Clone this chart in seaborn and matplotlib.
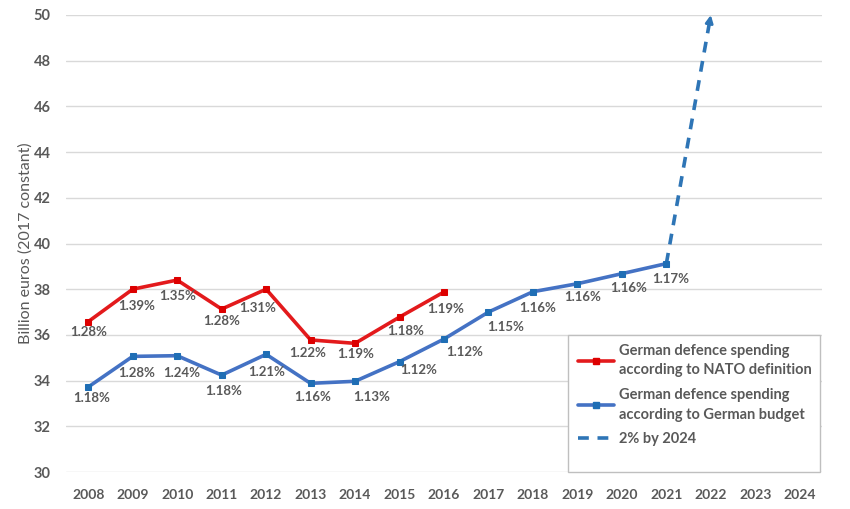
import matplotlib
matplotlib.use("Agg")
import matplotlib.pyplot as plt
import seaborn as sns
import pandas as pd
from matplotlib.lines import Line2D
from matplotlib.patches import Rectangle

# ---- data ----
years_nato = [2008, 2009, 2010, 2011, 2012, 2013, 2014, 2015, 2016]
nato_values = [36.58, 38.0, 38.4, 37.13, 38.0, 35.78, 35.63, 36.78, 37.88]
nato_pct = ["1.28%", "1.39%", "1.35%", "1.28%", "1.31%", "1.22%", "1.19%", "1.18%", "1.19%"]

years_budget = [2008, 2009, 2010, 2011, 2012, 2013, 2014, 2015, 2016,
                2017, 2018, 2019, 2020, 2021]
budget_values = [33.72, 35.06, 35.09, 34.24, 35.15, 33.88, 33.97, 34.83, 35.82,
                 37.0, 37.89, 38.24, 38.68, 39.12]
budget_pct = ["1.18%", "1.28%", "1.24%", "1.18%", "1.21%", "1.16%", "1.13%", "1.12%",
              "1.12%", "1.15%", "1.16%", "1.16%", "1.16%", "1.17%"]

years_target = [2021, 2022]
target_values = [39.12, 50.0]

x_ticks = list(range(2008, 2025))
y_ticks = list(range(30, 51, 2))

label_nato = "German defence spending\naccording to NATO definition"
label_budget = "German defence spending\naccording to German budget"
label_target = "2% by 2024"
y_label = "Billion euros (2017 constant)"

# label offsets in pixels (dx, dy) — placement styling only
nato_off = [(0, -10), (4, -17), (0, -16), (0, -12), (-8, -19), (-3, -13), (1, -11), (6, -14), (2, -17)]
budget_off = [(3, -11), (4, -17), (5, -17), (2, -16), (1, -18), (2, -14), (17, -16), (19, -8),
              (21, -13), (17, -15), (5, -16), (5, -13), (7, -14), (4, -15)]

# ---- styling ----
sns.set_theme(style="white")
plt.rcParams["font.family"] = ["Lato", "DejaVu Sans"]
GRAY = "#595959"
RED_LINE = "#E31A1C"
RED_MARK = "#DD0000"
BLUE_LINE = "#4472C4"
BLUE_MARK = "#1F6EB5"
DASH_BLUE = "#2E75B6"

fig = plt.figure(figsize=(8.5, 5.09), dpi=100)
ax = fig.add_axes([66 / 850, 1 - 472 / 509, (822 - 66) / 850, (472 - 15) / 509])

df_nato = pd.DataFrame({"year": years_nato, "value": nato_values})
df_budget = pd.DataFrame({"year": years_budget, "value": budget_values})
df_target = pd.DataFrame({"year": years_target, "value": target_values})

sns.lineplot(data=df_nato, x="year", y="value", ax=ax, color=RED_LINE, lw=2.6,
             marker="s", markersize=5, markerfacecolor=RED_MARK, markeredgecolor=RED_MARK,
             zorder=4)
sns.lineplot(data=df_budget, x="year", y="value", ax=ax, color=BLUE_LINE, lw=2.6,
             marker="s", markersize=5, markerfacecolor=BLUE_MARK, markeredgecolor=BLUE_MARK,
             zorder=4)
sns.lineplot(data=df_target, x="year", y="value", ax=ax, color=DASH_BLUE, lw=2.6,
             linestyle=(0, (3, 2.4)), zorder=3)
for l in ax.lines:
    l.set_clip_on(False)

# arrowhead at the end of the dashed target line
x0, y0 = years_target[-2], target_values[-2]
x1, y1 = years_target[-1], target_values[-1]
t = 0.96
ax.annotate("", xy=(x1, y1), xytext=(x0 + (x1 - x0) * t, y0 + (y1 - y0) * t),
            arrowprops=dict(arrowstyle="-|>", color=DASH_BLUE, lw=2.0,
                            mutation_scale=11, shrinkA=0, shrinkB=0),
            annotation_clip=False, zorder=5)

# data labels
for x, y, s, (dx, dy) in zip(years_nato, nato_values, nato_pct, nato_off):
    ax.annotate(s, (x, y), xytext=(dx, dy), textcoords="offset pixels",
                ha="center", va="center", fontsize=9.5, fontweight="bold", color=GRAY, zorder=6)
for x, y, s, (dx, dy) in zip(years_budget, budget_values, budget_pct, budget_off):
    ax.annotate(s, (x, y), xytext=(dx, dy), textcoords="offset pixels",
                ha="center", va="center", fontsize=9.5, fontweight="bold", color=GRAY, zorder=6)

# axes
ax.set_xlim(2007.5, 2024.5)
ax.set_ylim(30, 50)
ax.set_xticks(x_ticks)
ax.set_yticks(y_ticks)
ax.set_xticklabels([str(v) for v in x_ticks], fontsize=10, fontweight="bold", color=GRAY)
ax.set_yticklabels([str(v) for v in y_ticks], fontsize=10.5, fontweight="bold", color=GRAY)
ax.tick_params(axis="both", length=0)
ax.tick_params(axis="x", pad=12)
ax.tick_params(axis="y", pad=11)
ax.grid(axis="y", color="#D9D9D9", lw=1.0)
ax.set_axisbelow(True)
for sp in ax.spines.values():
    sp.set_visible(False)
ax.set_xlabel("")
ax.set_ylabel(y_label, fontsize=11.5, color=GRAY, labelpad=1)

# legend frame drawn as a rectangle, legend itself frameless
ax.add_patch(Rectangle((0.664, 0.0), 0.333, 0.30, transform=ax.transAxes,
                       facecolor="white", edgecolor="#BFBFBF", lw=1.0, zorder=7,
                       clip_on=False))
handles = [
    Line2D([], [], color=RED_LINE, lw=2.6, marker="s", markersize=4.5,
           markerfacecolor=RED_MARK, markeredgecolor=RED_MARK),
    Line2D([], [], color=BLUE_LINE, lw=2.6, marker="s", markersize=4.5,
           markerfacecolor=BLUE_MARK, markeredgecolor=BLUE_MARK),
    Line2D([], [], color=DASH_BLUE, lw=2.6, linestyle=(0, (3, 2.4))),
]
leg = ax.legend(handles, [label_nato, label_budget, label_target],
                loc="upper left", bbox_to_anchor=(0.677, 0.281),
                frameon=False, handlelength=2.5, handletextpad=0.35,
                labelspacing=0.72, borderpad=0.0, borderaxespad=0.0,
                prop={"size": 10.5, "weight": "bold"})
leg.set_zorder(8)
for txt in leg.get_texts():
    txt.set_color(GRAY)
    txt.set_linespacing(1.52)

fig.savefig("out.png", dpi=100, facecolor="white")
